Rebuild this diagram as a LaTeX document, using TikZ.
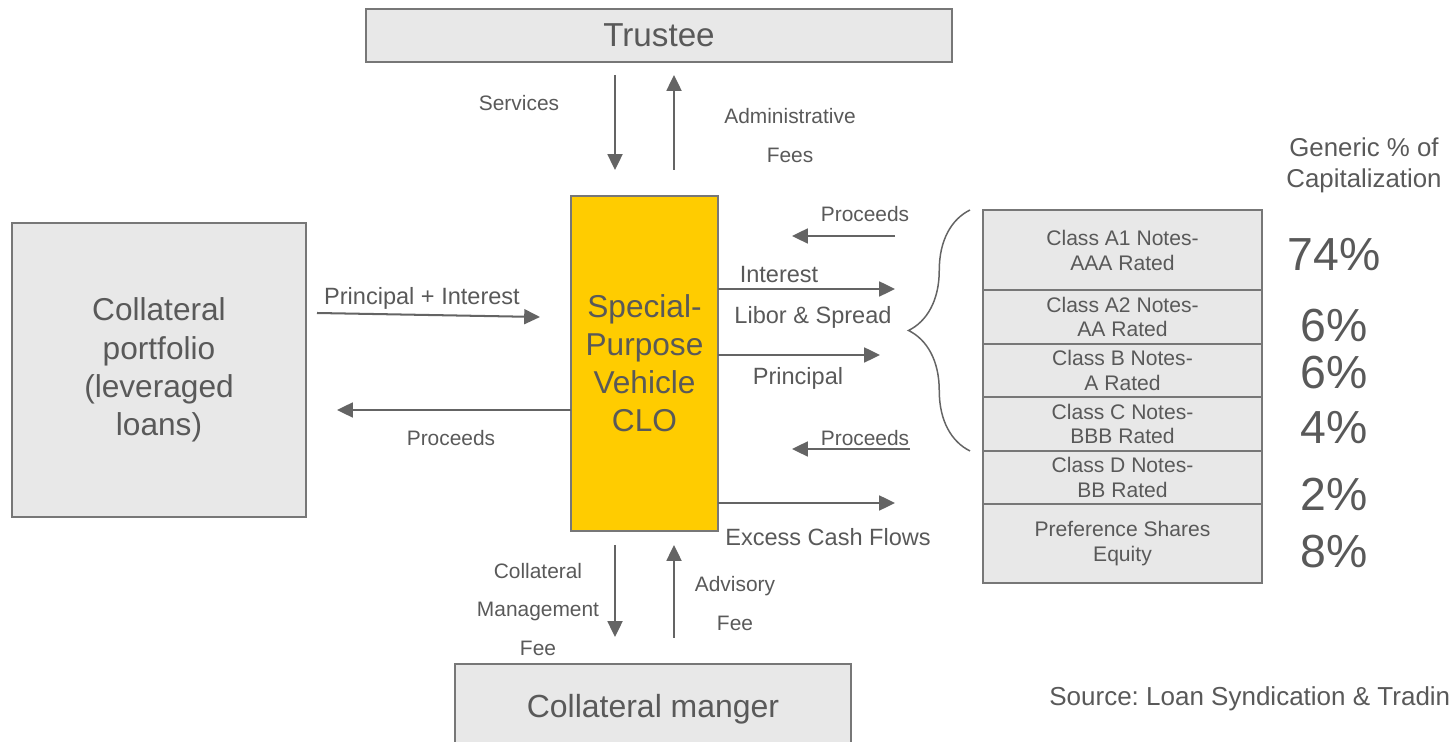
\documentclass[tikz,border=0pt]{standalone}
\usepackage{fontspec}
\setmainfont{Liberation Sans}
\usepackage{tikz}
\usetikzlibrary{positioning, arrows.meta, decorations.pathreplacing}
\frenchspacing

\definecolor{txtgray}{HTML}{595959}
\definecolor{linegray}{HTML}{646464}
\definecolor{boxfill}{HTML}{E8E8E8}
\definecolor{boxline}{HTML}{777777}
\definecolor{spvyellow}{HTML}{FFCC00}

\begin{document}
\begin{tikzpicture}[
    x=0.02cm, y=-0.02cm,
    party/.style={draw=boxline, fill=boxfill, line width=1.2pt, inner sep=0pt, outer sep=0pt,
        text=txtgray, align=center, font=\fontsize{18}{21.7}\selectfont},
    tranche/.style={party, minimum width=5.58cm, font=\fontsize{12}{14.2}\selectfont},
    pct/.style={text=txtgray, font=\fontsize{26.4}{30}\selectfont},
    lbl/.style={text=txtgray, align=center, font=\fontsize{11.9}{22}\selectfont},
    midlbl/.style={text=txtgray, align=center, font=\fontsize{13.4}{16}\selectfont},
    flow/.style={draw=linegray, line width=1.15pt, -{Triangle[length=9pt, width=8.5pt]}},
]
\useasboundingbox (0,0) rectangle (1450,742);
\clip (0,0) rectangle (1450,742);

% Parties
\node[party, minimum width=11.72cm, minimum height=1.06cm, font=\fontsize{18.9}{22}\selectfont]
    (trustee) at (659,35.5) {Trustee};
\node[party, fill=spvyellow, minimum width=2.94cm, minimum height=6.7cm]
    (spv) at (644.5,363.5) {Special-\\Purpose\\Vehicle\\CLO};
\node[party, minimum width=5.88cm, minimum height=5.88cm]
    (pool) at (159,370) {Collateral\\portfolio\\(leveraged\\loans)};
\node[party, minimum width=7.92cm, minimum height=1.8cm, font=\fontsize{18.2}{21}\selectfont]
    (manager) at (653,709) {Collateral manger};

% Capital structure
\node[tranche, minimum height=1.6cm] (a1) at (1122.5,250) {Class A1 Notes-\\AAA Rated};
\node[tranche, minimum height=1.08cm, below=0pt of a1] (a2) {Class A2 Notes-\\AA Rated};
\node[tranche, minimum height=1.06cm, below=0pt of a2] (clb) {Class B Notes-\\A Rated};
\node[tranche, minimum height=1.08cm, below=0pt of clb] (clc) {Class C Notes-\\BBB Rated};
\node[tranche, minimum height=1.06cm, below=0pt of clc] (cld) {Class D Notes-\\BB Rated};
\node[tranche, minimum height=1.58cm, below=0pt of cld] (pref) {Preference Shares\\Equity};

\node[text=txtgray, align=center, font=\fontsize{14.7}{17.6}\selectfont]
    (generic) at (1364,165) {Generic \% of\\Capitalization};
\node[pct] (p-a1) at (1334,255) {74\%};
\node[pct] (p-a2) at (1334,326) {6\%};
\node[pct] (p-b) at (1334,373) {6\%};
\node[pct] (p-c) at (1334,428) {4\%};
\node[pct] (p-d) at (1334,494) {2\%};
\node[pct] (p-pref) at (1334,552) {8\%};

% Brace over the rated notes
\draw[linegray, line width=0.85pt, decorate, decoration={brace, amplitude=35pt}]
    (clc.south west -| 970,0) -- (a1.north west -| 970,0);

% Free ends of the flows
\coordinate (svc-top) at (615,75);
\coordinate (svc-end) at (615,170);
\coordinate (adm-top) at (674,75);
\coordinate (adm-low) at (674,170);
\coordinate (pi-start) at (317,313);
\coordinate (pi-end) at (540,317);
\coordinate (proc-left) at (337,410);
\coordinate (int-end) at (895,289);
\coordinate (prin-end) at (880,355);
\coordinate (xs-end) at (895,503);
\coordinate (proc1-start) at (895,236);
\coordinate (proc1-end) at (792,236);
\coordinate (proc2-start) at (910,449);
\coordinate (proc2-end) at (792,449);
\coordinate (mgt-top) at (615,545);
\coordinate (mgt-end) at (615,637);
\coordinate (adv-top) at (674,545);
\coordinate (adv-low) at (674,638);

% Trustee flows
\draw[flow] (svc-top) -- (svc-end);
\draw[flow] (adm-low) -- (adm-top);
\node[lbl] (svc-lbl) at (519,103) {Services};
\node[lbl] (adm-lbl) at (790,135.5) {Administrative\\Fees};

% Collateral flows
\draw[flow] (pi-start) -- (pi-end);
\draw[flow] (spv.west |- proc-left) -- (proc-left);
\node[midlbl] (pi-lbl) at (422,298) {Principal + Interest};
\node[lbl] (proc-lbl) at (451,438) {Proceeds};

% Note flows
\draw[flow] (proc1-start) -- (proc1-end);
\draw[flow] (spv.east |- int-end) -- (int-end);
\draw[flow] (spv.east |- prin-end) -- (prin-end);
\draw[flow] (proc2-start) -- (proc2-end);
\draw[flow] (spv.east |- xs-end) -- (xs-end);
\node[lbl] (proc1-lbl) at (865,214) {Proceeds};
\node[midlbl] (int-lbl) at (779,275) {Interest};
\node[midlbl] (libor-lbl) at (813,317) {Libor \& Spread};
\node[midlbl] (prin-lbl) at (798,378) {Principal};
\node[lbl] (proc2-lbl) at (865,438) {Proceeds};
\node[midlbl] (xs-lbl) at (828,537) {Excess Cash Flows};

% Manager flows
\draw[flow] (mgt-top) -- (mgt-end);
\draw[flow] (adv-low) -- (adv-top);
\node[lbl] (mgt-lbl) at (538,609.5) {Collateral\\Management\\Fee};
\node[lbl] (adv-lbl) at (735,603.5) {Advisory\\Fee};

\node[anchor=west, inner sep=0pt, text=txtgray, font=\fontsize{14.8}{17}\selectfont]
    (source) at (1049,699) {Source: Loan Syndication \& Trading};
\end{tikzpicture}
\end{document}
